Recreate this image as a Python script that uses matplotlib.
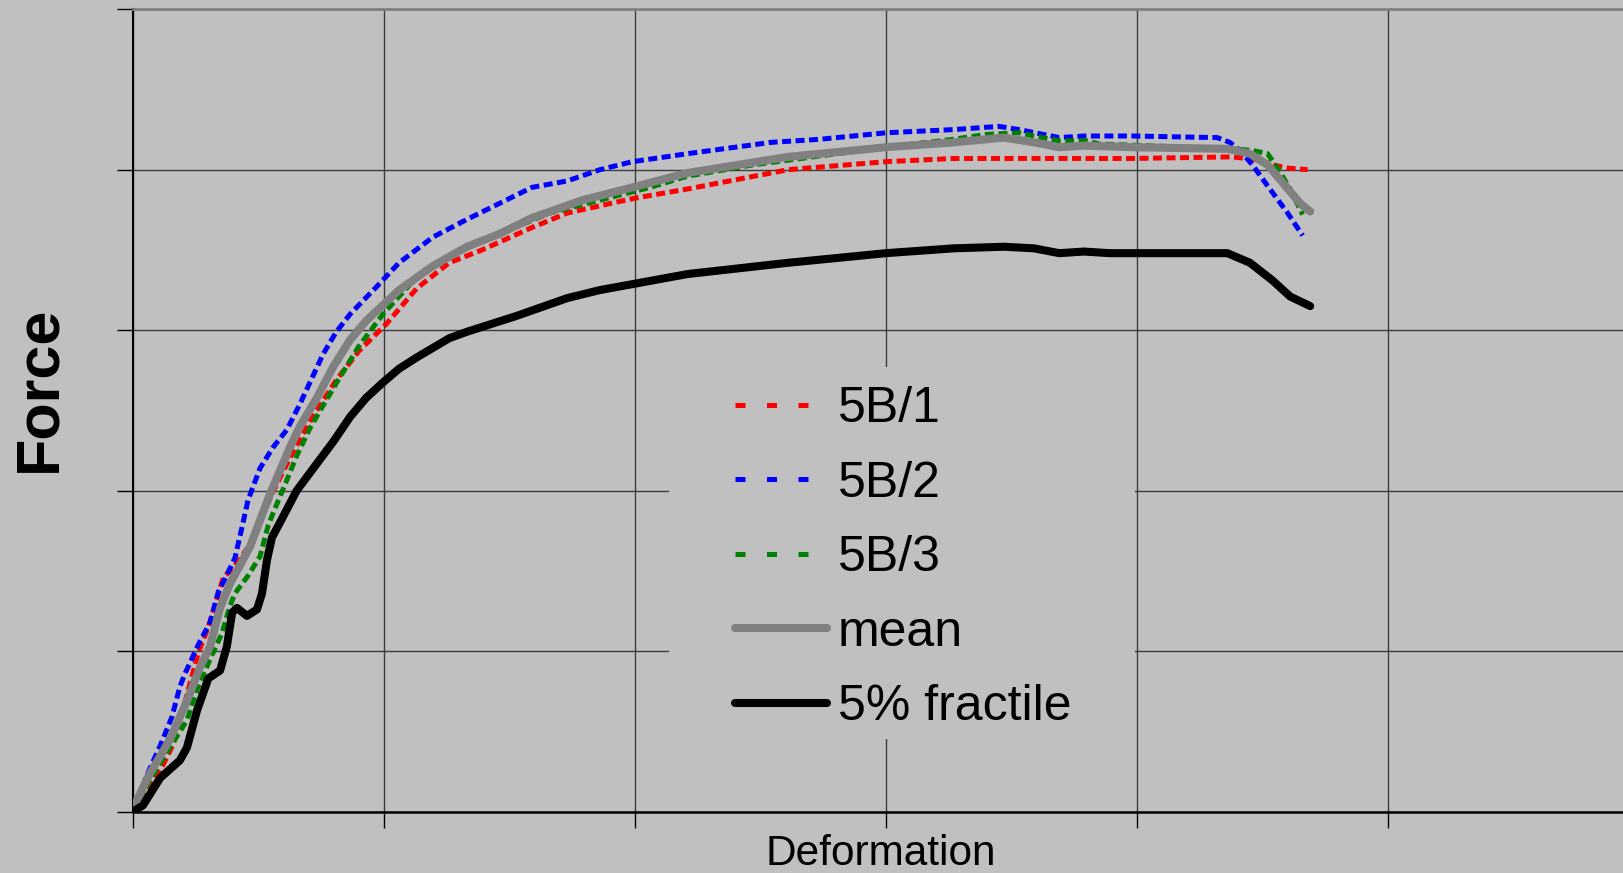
import matplotlib
matplotlib.use("Agg")
import matplotlib.pyplot as plt
from matplotlib.lines import Line2D
from matplotlib.patches import Rectangle

# ---------------- data ----------------
x_5b1 = [0, 0.116, 0.16, 0.21, 0.26, 0.30, 0.36, 0.40, 0.46, 0.56, 0.64, 0.72, 0.81, 0.90,
         1.01, 1.13, 1.26, 1.39, 1.59, 1.73, 1.99, 2.21, 2.61, 3.0, 3.27, 3.53, 3.98,
         4.38, 4.49, 4.54, 4.60, 4.68]
y_5b1 = [0, 0.28, 0.42, 0.70, 0.99, 1.15, 1.46, 1.52, 1.65, 2.0, 2.25, 2.47, 2.69, 2.87,
         3.04, 3.26, 3.42, 3.50, 3.64, 3.73, 3.82, 3.88, 4.00, 4.05, 4.07, 4.07, 4.07,
         4.08, 4.06, 4.03, 4.01, 4.00]

x_5b2 = [0, 0.056, 0.108, 0.155, 0.187, 0.207, 0.26, 0.307, 0.34, 0.366, 0.406, 0.434,
         0.458, 0.506, 0.558, 0.613, 0.665, 0.757, 0.81, 0.865, 0.97, 1.06, 1.195, 1.33,
         1.46, 1.59, 1.73, 1.86, 1.99, 2.21, 2.54, 2.74, 3.0, 3.27, 3.45, 3.53, 3.69,
         3.79, 3.98, 4.32, 4.37, 4.41, 4.46, 4.52, 4.60, 4.66]
y_5b2 = [0, 0.23, 0.41, 0.59, 0.78, 0.86, 1.04, 1.18, 1.37, 1.45, 1.58, 1.77,
         1.94, 2.14, 2.27, 2.38, 2.54, 2.85, 2.99, 3.10, 3.27, 3.42, 3.58, 3.69,
         3.79, 3.89, 3.93, 4.00, 4.05, 4.10, 4.17, 4.19, 4.23, 4.25, 4.27, 4.25, 4.20,
         4.21, 4.21, 4.20, 4.17, 4.12, 4.03, 3.90, 3.73, 3.59]

x_5b3 = [0, 0.068, 0.167, 0.215, 0.255, 0.307, 0.354, 0.386, 0.406, 0.458, 0.506, 0.538,
         0.558, 0.606, 0.653, 0.705, 0.757, 0.81, 0.90, 0.996, 1.13, 1.26, 1.46, 1.66,
         1.86, 2.06, 2.21, 2.47, 3.0, 3.27, 3.40, 3.53, 3.59, 3.69, 3.80, 3.85, 4.38,
         4.46, 4.52, 4.56, 4.61, 4.66]
y_5b3 = [0, 0.20, 0.45, 0.57, 0.76, 0.95, 1.11, 1.28, 1.36, 1.47, 1.59, 1.78,
         1.86, 2.04, 2.22, 2.39, 2.53, 2.67, 2.90, 3.10, 3.33, 3.46, 3.60, 3.73,
         3.81, 3.89, 3.96, 4.03, 4.14, 4.19, 4.22, 4.23, 4.21, 4.18, 4.18, 4.16, 4.13,
         4.12, 4.10, 4.01, 3.88, 3.72]

x_mean = [0, 0.068, 0.147, 0.215, 0.267, 0.307, 0.347, 0.386, 0.466, 0.546, 0.625, 0.665,
          0.733, 0.797, 0.865, 0.93, 1.06, 1.195, 1.33, 1.46, 1.59, 1.79, 1.99, 2.21,
          2.61, 3.0, 3.27, 3.47, 3.59, 3.69, 3.79, 3.98, 4.36, 4.45, 4.52, 4.58, 4.65, 4.69]
y_mean = [0.02, 0.24, 0.45, 0.69, 0.90, 1.03, 1.27, 1.42, 1.65, 1.98, 2.27, 2.40,
          2.58, 2.77, 2.94, 3.06, 3.25, 3.40, 3.52, 3.60, 3.70, 3.81, 3.89, 3.98,
          4.08, 4.14, 4.17, 4.20, 4.17, 4.14, 4.15, 4.14, 4.13, 4.10, 4.03, 3.92, 3.79, 3.74]

x_frac = [0, 0.04, 0.108, 0.187, 0.215, 0.255, 0.30, 0.347, 0.374, 0.395, 0.414, 0.454,
          0.494, 0.514, 0.534, 0.554, 0.585, 0.652, 0.733, 0.80, 0.865, 0.93, 1.0, 1.06,
          1.13, 1.26, 1.33, 1.53, 1.73, 1.86, 2.21, 2.61, 3.0, 3.27, 3.47, 3.59, 3.69,
          3.79, 3.89, 4.12, 4.36, 4.45, 4.54, 4.61, 4.69]
y_frac = [0.0, 0.04, 0.21, 0.32, 0.40, 0.63, 0.83, 0.88, 1.03, 1.24, 1.27, 1.22,
          1.26, 1.36, 1.57, 1.71, 1.80, 2.00, 2.17, 2.31, 2.46, 2.58, 2.68, 2.76,
          2.83, 2.95, 2.99, 3.09, 3.20, 3.25, 3.35, 3.42, 3.48, 3.51, 3.52, 3.51, 3.48,
          3.49, 3.48, 3.48, 3.48, 3.42, 3.31, 3.21, 3.15]

labels = ["5B/1", "5B/2", "5B/3", "mean", "5% fractile"]
x_ticks = [0, 1, 2, 3, 4, 5]
y_ticks = [0, 1, 2, 3, 4, 5]

# ---------------- figure ----------------
plt.rcParams['font.family'] = ['Liberation Sans', 'DejaVu Sans']
BG = '#c0c0c0'
W, H = 1623, 873
fig = plt.figure(figsize=(W / 100, H / 100), dpi=100, facecolor=BG)
ax_left, ax_bottom = 133 / W, 61.3 / H
ax = fig.add_axes([ax_left, ax_bottom, 1 - ax_left, (811.7 - 9.2) / H])
ax.set_facecolor(BG)

dash_lw = 3.6
ax.plot(x_5b1, y_5b1, color='#ff0000', lw=dash_lw, dashes=(1.8, 0.9),
        dash_capstyle='butt', zorder=3)
ax.plot(x_5b2, y_5b2, color='#0000ff', lw=dash_lw, dashes=(1.8, 0.9),
        dash_capstyle='butt', zorder=3)
ax.plot(x_5b3, y_5b3, color='#008000', lw=dash_lw, dashes=(1.8, 0.9),
        dash_capstyle='butt', zorder=3)
ax.plot(x_mean, y_mean, color='#808080', lw=5.8, solid_capstyle='round',
        solid_joinstyle='round', zorder=4)
ax.plot(x_frac, y_frac, color='#000000', lw=5.8, solid_capstyle='round',
        solid_joinstyle='round', zorder=5)

ax.set_xticks(x_ticks)
ax.set_yticks(y_ticks)
ax.set_xlim(0, (W - 133) / 251)
ax.set_ylim(0, 5)
ax.tick_params(axis='both', direction='out', length=11.5, width=1.0, color='#000000',
               labelbottom=False, labelleft=False)
ax.grid(True, color='#3c3c3c', lw=1.0, zorder=1)
ax.set_axisbelow(True)

ax.spines['right'].set_visible(False)
ax.spines['top'].set_color('#808080')
ax.spines['top'].set_linewidth(2.0)
ax.spines['left'].set_color('#000000')
ax.spines['left'].set_linewidth(1.5)
ax.spines['bottom'].set_color('#000000')
ax.spines['bottom'].set_linewidth(1.8)

# legend background covering the grid
def px_to_ax(px, py):
    return (px - 133) / 1490, (811.7 - py) / 802.5

lx0, ly1 = px_to_ax(669, 367)
lx1, ly0 = px_to_ax(1135, 739)
ax.add_patch(Rectangle((lx0, ly0), lx1 - lx0, ly1 - ly0, transform=ax.transAxes,
                       facecolor=BG, edgecolor='none', zorder=2))

handles = [
    Line2D([], [], color='#ff0000', lw=dash_lw, dashes=(2, 4.3), dash_capstyle='butt'),
    Line2D([], [], color='#0000ff', lw=dash_lw, dashes=(2, 4.3), dash_capstyle='butt'),
    Line2D([], [], color='#008000', lw=dash_lw, dashes=(2, 4.3), dash_capstyle='butt'),
    Line2D([], [], color='#808080', lw=5.8, solid_capstyle='round'),
    Line2D([], [], color='#000000', lw=5.8, solid_capstyle='round'),
]
hx, hy = px_to_ax(735, 386.5)
leg = ax.legend(handles, labels, loc='upper left', bbox_to_anchor=(hx, hy),
                frameon=False, fontsize=36, handlelength=1.84, handletextpad=0.22,
                labelspacing=0.57, borderpad=0, borderaxespad=0)
leg.set_zorder(6)

# axis labels
ax.set_ylabel("Force", fontsize=44, fontweight='bold', va='center')
ax.yaxis.set_label_coords(*px_to_ax(40, 389))
ax.set_xlabel("Deformation", fontsize=30.5, va='baseline')
ax.xaxis.set_label_coords(*px_to_ax(881, 865))

fig.savefig("out.png", dpi=100, facecolor=BG)
